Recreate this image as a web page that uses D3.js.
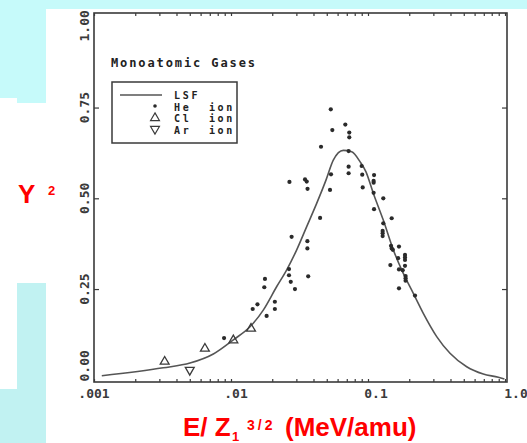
<!DOCTYPE html>
<html>
<head>
<meta charset="utf-8">
<script src="https://cdn.jsdelivr.net/npm/d3@7"></script>
<style>
  body { margin: 0; background: #fff; }
  svg { display: block; }
  text { white-space: pre; }
</style>
</head>
<body>
<svg width="527" height="443"></svg>
<script>
  // axis ticks
  var xTickValues = [0.001, 0.01, 0.1, 1];
  var xTickLabels = [".001", ".01", "0.1", "1.0"];
  var yTickValues = [0, 0.25, 0.5, 0.75, 1];
  var yTickLabels = ["0.00", "0.25", "0.50", "0.75", "1.00"];

  // least squares fit
  var lsfE = [0.00114, 0.0032, 0.00502, 0.00743, 0.0104, 0.01376, 0.0172, 0.02157, 0.02551, 0.03017,
              0.03569, 0.04221, 0.04935, 0.0558, 0.06602, 0.07603, 0.08743, 0.09669, 0.1093, 0.1293,
              0.153, 0.181, 0.2142, 0.2533, 0.3173, 0.3968, 0.5253, 0.6941, 0.8937, 0.99];
  var lsfY = [0.011, 0.033, 0.046, 0.071, 0.110, 0.146, 0.192, 0.257, 0.303, 0.358,
              0.422, 0.486, 0.550, 0.605, 0.632, 0.628, 0.601, 0.573, 0.514, 0.440,
              0.358, 0.293, 0.238, 0.183, 0.119, 0.073, 0.036, 0.016, 0.007, 0.002];

  // He ion points
  var heE = [0.0089, 0.0144, 0.0156, 0.0175, 0.0177, 0.0182, 0.0209, 0.0209,
             0.0265, 0.0265, 0.0273, 0.0293, 0.0267, 0.0277, 0.0347, 0.0357, 0.0362, 0.0361, 0.0361, 0.0366,
             0.0447, 0.0454, 0.0535, 0.0549, 0.0537, 0.0528, 0.0683, 0.073, 0.073, 0.0722, 0.0722, 0.0722,
             0.0899, 0.0908, 0.0915, 0.1107, 0.1099, 0.1099, 0.1099, 0.1107, 0.1293, 0.1293, 0.1489,
             0.1279, 0.1279, 0.1279, 0.1472, 0.1489, 0.1518, 0.1683, 0.1659, 0.1456, 0.1683,
             0.1862, 0.1862, 0.1862, 0.1862, 0.1792, 0.1881, 0.1881, 0.1881, 0.1683, 0.2203];
  var heY = [0.115, 0.195, 0.208, 0.255, 0.278, 0.176, 0.215, 0.195,
             0.305, 0.288, 0.270, 0.250, 0.545, 0.394, 0.552, 0.546, 0.526, 0.382, 0.362, 0.285,
             0.446, 0.642, 0.745, 0.688, 0.566, 0.523, 0.703, 0.681, 0.668, 0.630, 0.587, 0.569,
             0.589, 0.565, 0.530, 0.564, 0.548, 0.543, 0.515, 0.470, 0.500, 0.431, 0.445,
             0.410, 0.404, 0.396, 0.369, 0.362, 0.358, 0.367, 0.335, 0.316, 0.304,
             0.344, 0.337, 0.330, 0.314, 0.302, 0.286, 0.280, 0.273, 0.252, 0.232];

  // Cl ion and Ar ion points
  var clE = [0.00328, 0.00645, 0.0104, 0.0140];
  var clY = [0.050, 0.086, 0.109, 0.141];
  var arE = [0.0050];
  var arY = [0.027];

  var legendLabels = ["LSF", "He  ion", "Cl  ion", "Ar  ion"];

  var ink = "#3a3a3a";
  var mono = "'DejaVu Sans Mono', monospace";
  var sans = "'Liberation Sans', Arial, sans-serif";

  var svg = d3.select("svg");

  // cyan slide background pieces
  var bgTop = "#c6fafa";
  var bgLow = "#c1f2f2";
  svg.append("rect").attr("x", 0).attr("y", 0).attr("width", 527).attr("height", 9).attr("fill", bgTop);
  svg.append("rect").attr("x", 0).attr("y", 0).attr("width", 46).attr("height", 98).attr("fill", bgTop);
  svg.append("rect").attr("x", 17).attr("y", 98).attr("width", 29).attr("height", 5).attr("fill", bgTop);
  svg.append("rect").attr("x", 17).attr("y", 283).attr("width", 29).attr("height", 160).attr("fill", bgLow);
  svg.append("rect").attr("x", 0).attr("y", 389).attr("width", 17).attr("height", 54).attr("fill", bgLow);

  var frame = { left: 94, right: 507, top: 13, bottom: 382 };

  var x = d3.scaleLog().domain([0.001, 1]).range([94, 505]);
  var y = d3.scaleLinear().domain([0, 1]).range([379.8, 16.8]);

  // minor ticks on bottom and top
  var minor = x.ticks();
  svg.append("g")
    .attr("transform", "translate(0," + frame.bottom + ")")
    .call(d3.axisBottom(x).tickValues(minor).tickFormat("").tickSizeInner(-3).tickSizeOuter(0))
    .call(function (g) { g.select(".domain").remove(); g.selectAll("line").attr("stroke", ink).attr("stroke-width", 1.2); });
  svg.append("g")
    .attr("transform", "translate(0," + frame.top + ")")
    .call(d3.axisTop(x).tickValues(minor).tickFormat("").tickSizeInner(-3).tickSizeOuter(0))
    .call(function (g) { g.select(".domain").remove(); g.selectAll("line").attr("stroke", ink).attr("stroke-width", 1.2); });

  // y ticks on left and right
  var yInner = [0.25, 0.5, 0.75];
  svg.append("g")
    .attr("transform", "translate(" + frame.left + ",0)")
    .call(d3.axisLeft(y).tickValues(yInner).tickFormat("").tickSizeInner(-5).tickSizeOuter(0))
    .call(function (g) { g.select(".domain").remove(); g.selectAll("line").attr("stroke", ink).attr("stroke-width", 1.2); });
  svg.append("g")
    .attr("transform", "translate(" + frame.right + ",0)")
    .call(d3.axisRight(y).tickValues(yInner).tickFormat("").tickSizeInner(-5).tickSizeOuter(0))
    .call(function (g) { g.select(".domain").remove(); g.selectAll("line").attr("stroke", ink).attr("stroke-width", 1.2); });

  // frame
  svg.append("rect")
    .attr("x", frame.left)
    .attr("y", frame.top)
    .attr("width", frame.right - frame.left)
    .attr("height", frame.bottom - frame.top)
    .attr("fill", "none")
    .attr("stroke", ink)
    .attr("stroke-width", 1.6);

  // x tick labels
  var xLabelNudge = [0, 5, 8, 11];
  svg.append("g")
    .selectAll("text")
    .data(xTickValues)
    .join("text")
    .attr("x", function (d, i) { return x(d) + xLabelNudge[i]; })
    .attr("y", 398)
    .attr("text-anchor", "middle")
    .attr("font-family", mono)
    .attr("font-weight", "bold")
    .attr("font-size", 13)
    .attr("fill", ink)
    .text(function (d, i) { return xTickLabels[i]; });

  // y tick labels, rotated
  var yLabelNudge = [-14, 0, 0, 0, 9];
  svg.append("g")
    .selectAll("text")
    .data(yTickValues)
    .join("text")
    .attr("transform", function (d, i) { return "translate(84," + (y(d) + yLabelNudge[i]) + ") rotate(-90)"; })
    .attr("text-anchor", "middle")
    .attr("dominant-baseline", "central")
    .attr("font-family", mono)
    .attr("font-weight", "bold")
    .attr("font-size", 13)
    .attr("fill", ink)
    .text(function (d, i) { return yTickLabels[i]; });

  // fitted curve
  var line = d3.line()
    .x(function (d, i) { return x(lsfE[i]); })
    .y(function (d, i) { return y(lsfY[i]); })
    .curve(d3.curveMonotoneX);

  svg.append("path")
    .attr("d", line(lsfE))
    .attr("fill", "none")
    .attr("stroke", "#555")
    .attr("stroke-width", 1.6);

  // He points
  svg.append("g")
    .selectAll("circle")
    .data(heE)
    .join("circle")
    .attr("cx", function (d) { return x(d); })
    .attr("cy", function (d, i) { return y(heY[i]); })
    .attr("r", 2.1)
    .attr("fill", "#2a2a2a");

  // Cl points (up triangles)
  var tri = d3.symbol().type(d3.symbolTriangle).size(34);
  svg.append("g")
    .selectAll("path")
    .data(clE)
    .join("path")
    .attr("transform", function (d, i) { return "translate(" + x(d) + "," + y(clY[i]) + ")"; })
    .attr("d", tri)
    .attr("fill", "none")
    .attr("stroke", ink)
    .attr("stroke-width", 1.3);

  // Ar points (down triangles)
  svg.append("g")
    .selectAll("path")
    .data(arE)
    .join("path")
    .attr("transform", function (d, i) { return "translate(" + x(d) + "," + y(arY[i]) + ") rotate(180)"; })
    .attr("d", tri)
    .attr("fill", "none")
    .attr("stroke", ink)
    .attr("stroke-width", 1.3);

  // title inside the plot
  svg.append("text")
    .attr("x", 111)
    .attr("y", 67)
    .attr("font-family", mono)
    .attr("font-weight", "bold")
    .attr("font-size", 12)
    .attr("letter-spacing", 1.9)
    .attr("fill", "#222")
    .text("Monoatomic Gases");

  // legend
  var lg = svg.append("g");
  lg.append("rect")
    .attr("x", 112).attr("y", 82)
    .attr("width", 125).attr("height", 61)
    .attr("fill", "none")
    .attr("stroke", ink)
    .attr("stroke-width", 1.5);
  lg.append("line")
    .attr("x1", 120).attr("x2", 162)
    .attr("y1", 95).attr("y2", 95)
    .attr("stroke", "#555")
    .attr("stroke-width", 1.6);
  lg.append("circle")
    .attr("cx", 155).attr("cy", 106).attr("r", 1.8)
    .attr("fill", "#2a2a2a");
  lg.append("path")
    .attr("transform", "translate(155,118)")
    .attr("d", tri)
    .attr("fill", "none").attr("stroke", ink).attr("stroke-width", 1.2);
  lg.append("path")
    .attr("transform", "translate(155,129) rotate(180)")
    .attr("d", tri)
    .attr("fill", "none").attr("stroke", ink).attr("stroke-width", 1.2);
  lg.selectAll("text.lab")
    .data(legendLabels)
    .join("text")
    .attr("class", "lab")
    .attr("x", 174)
    .attr("y", function (d, i) { return 99 + i * 11.5; })
    .attr("font-family", mono)
    .attr("font-weight", "bold")
    .attr("font-size", 10)
    .attr("letter-spacing", 2.7)
    .attr("fill", "#222")
    .text(function (d) { return d; });

  // red axis titles
  var red = "#f00";
  var yt = svg.append("text")
    .attr("font-family", sans)
    .attr("font-weight", "bold")
    .attr("fill", red);
  yt.append("tspan").attr("x", 18).attr("y", 203).attr("font-size", 26).text("Y");
  yt.append("tspan").attr("x", 48).attr("y", 195).attr("font-size", 13).text("2");

  var xt = svg.append("text")
    .attr("font-family", sans)
    .attr("font-weight", "bold")
    .attr("fill", red);
  xt.append("tspan").attr("x", 183).attr("y", 436).attr("font-size", 26).text("E/ Z");
  xt.append("tspan").attr("x", 232).attr("y", 441).attr("font-size", 13).text("1");
  xt.append("tspan").attr("x", 247).attr("y", 430).attr("font-size", 14).attr("letter-spacing", 3).text("3/2");
  xt.append("tspan").attr("x", 285).attr("y", 436).attr("font-size", 26).text("(MeV/amu)");
</script>
</body>
</html>
